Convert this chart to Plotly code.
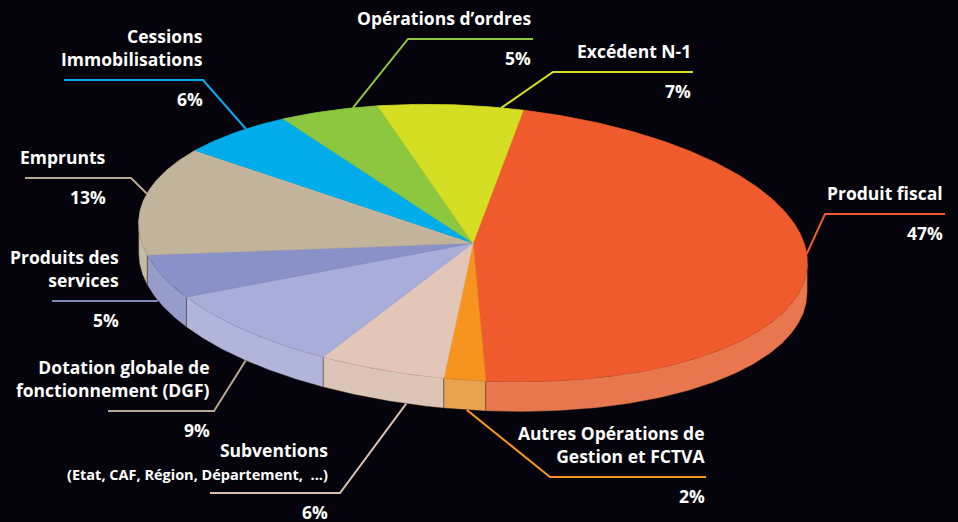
import numpy as np
import plotly.graph_objects as go

# ---------------- data ----------------
categories = [
    "Produit fiscal",
    "Autres Opérations de Gestion et FCTVA",
    "Subventions",
    "Dotation globale de fonctionnement (DGF)",
    "Produits des services",
    "Emprunts",
    "Cessions Immobilisations",
    "Opérations d’ordres",
    "Excédent N-1",
]
values = [47, 2, 6, 9, 5, 13, 6, 5, 7]

# label text as displayed (line breaks)
display_names = [
    "Produit fiscal",
    "Autres Opérations de<br>Gestion et FCTVA",
    "Subventions<br><span style='font-size:14.5px'>(Etat, CAF, Région, Département,  ...)</span>",
    "Dotation globale de<br>fonctionnement (DGF)",
    "Produits des<br>services",
    "Emprunts",
    "Cessions<br>Immobilisations",
    "Opérations d’ordres",
    "Excédent N-1",
]

# ---------------- styles ----------------
top_colors = ["#EF5B2D", "#F5951F", "#E3C6B8", "#A8ADD9", "#8A90C8",
              "#C1B49A", "#00ADEA", "#8DC63F", "#D6DE24"]
side_colors = ["#E8774F", "#E9A250", "#DCC5B7", "#B1B5DB", "#979DCB",
               "#C6BBA3", "#0098CC", "#7DB036", "#C0C71F"]
line_colors = ["#EF5B2D", "#F5951F", "#D9C0B0", "#B8A890", "#8088C0",
               "#B8A890", "#00ADEA", "#8DC63F", "#D6DE24"]

BG = "#05040C"
CX, CY, RX, RY = 473.0, 243.0, 335.0, 137.0
TILT = np.radians(4.0)
DEPTH = 30.0
START = 7.0  # degrees clockwise from top
FONT = dict(family="Open Sans", size=17.5, color="white", weight=700)

# label layout: (text right x, line y, line x-left, line x-right, elbow at 'l'/'r', anchor fraction)
label_layout = [
    (945, 214, 825, 945, "l", 0.46),
    (707, 477, 550, 706, "l", 0.45),
    (330, 493, 210, 340, "r", 0.30),
    (212, 411, 108, 214, "r", 0.50),
    (121, 301, 52, 157, "r", 0.65),
    (108, 178, 25, 131, "r", 0.55),
    (205, 80, 64, 203, "r", 0.62),
    (533, 39, 408, 533, "l", 0.75),
    (693, 72, 553, 693, "l", 0.85),
]


def rim(a_deg, drop=0.0):
    a = np.radians(a_deg)
    lx = RX * np.sin(a)
    ly = -RY * np.cos(a)
    x = CX + lx * np.cos(TILT) - ly * np.sin(TILT)
    y = CY + lx * np.sin(TILT) + ly * np.cos(TILT) + drop
    return x, y


# front (visible side) interval
front_lo = np.degrees(np.arctan2(RX * np.cos(TILT), RY * np.sin(TILT)))
front_hi = front_lo + 180.0

total = float(sum(values))
bounds = [START]
for v in values:
    bounds.append(bounds[-1] + v / total * 360.0)

fig = go.Figure()

# sides
for i, v in enumerate(values):
    a1, a2 = bounds[i], bounds[i + 1]
    s1, s2 = max(a1, front_lo), min(a2, front_hi)
    if s2 <= s1:
        continue
    ang = np.linspace(s1, s2, max(4, int((s2 - s1) * 2)))
    xt, yt = rim(ang)
    xb, yb = rim(ang[::-1], DEPTH)
    xs = np.concatenate([xt, xb, xt[:1]])
    ys = np.concatenate([yt, yb, yt[:1]])
    fig.add_trace(go.Scatter(x=xs, y=ys, mode="lines", fill="toself",
                             fillcolor=side_colors[i],
                             line=dict(color="rgba(60,40,30,0.55)", width=0.7),
                             hoverinfo="skip", showlegend=False))

# tops
for i, v in enumerate(values):
    a1, a2 = bounds[i], bounds[i + 1]
    ang = np.linspace(a1, a2, max(4, int((a2 - a1) * 2)))
    xr, yr = rim(ang)
    xs = np.concatenate([[CX], xr, [CX]])
    ys = np.concatenate([[CY], yr, [CY]])
    fig.add_trace(go.Scatter(x=xs, y=ys, mode="lines", fill="toself",
                             fillcolor=top_colors[i],
                             line=dict(color=top_colors[i], width=0.8),
                             hoverinfo="skip", showlegend=False,
                             name=categories[i]))

annotations = []
for i, v in enumerate(values):
    tx, ly, xl, xr_, elbow, frac = label_layout[i]
    a1, a2 = bounds[i], bounds[i + 1]
    am = a1 + frac * (a2 - a1)
    amod = am % 360
    drop = DEPTH if front_lo < amod < front_hi else 0.0
    ax, ay = rim(am, drop)
    if elbow == "l":
        xs = [float(ax), xl, xr_]
    else:
        xs = [float(ax), xr_, xl]
    ys = [float(ay), ly, ly]
    fig.add_trace(go.Scatter(x=xs, y=ys, mode="lines",
                             line=dict(color=line_colors[i], width=2),
                             hoverinfo="skip", showlegend=False))
    annotations.append(dict(
        x=tx, y=ly - 7, xref="x", yref="y", xanchor="right", yanchor="bottom",
        text=display_names[i], showarrow=False, align="right", font=FONT))
    annotations.append(dict(
        x=tx, y=ly + 5, xref="x", yref="y", xanchor="right", yanchor="top",
        text=f"{v}%", showarrow=False, align="right", font=FONT))

fig.update_layout(
    width=958, height=522,
    margin=dict(l=0, r=0, t=0, b=0),
    paper_bgcolor=BG, plot_bgcolor=BG,
    xaxis=dict(range=[0, 958], visible=False, fixedrange=True),
    yaxis=dict(range=[522, 0], visible=False, fixedrange=True),
    annotations=annotations,
    showlegend=False,
)

fig.write_html("out.html")
